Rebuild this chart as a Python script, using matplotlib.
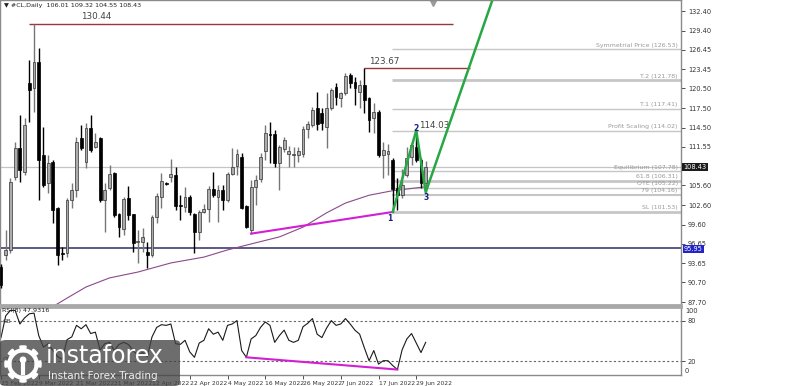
import numpy as np
import matplotlib.pyplot as plt
from matplotlib.patches import FancyBboxPatch, Circle, Wedge
from matplotlib.transforms import blended_transform_factory

# daily OHLC, 25 Feb 2022 .. 1 Jul 2022
opens = [93.1, 94.9, 95.7, 106.9, 111.4, 107.7, 121.3, 120.6, 124.6, 110.3,
         106.0, 109.2, 102.1, 95.2, 95.2, 103.4, 104.9, 112.9, 109.2, 114.4,
         111.5, 112.9, 103.4, 105.2, 107.5, 101.2, 98.9, 103.7, 101.2, 96.9,
         96.9, 95.4, 94.9, 100.8, 103.8, 105.9, 106.9, 107.2, 102.5, 102.3,
         103.8, 101.2, 98.5, 101.5, 102.0, 105.1, 103.8, 104.9, 103.4, 107.4,
         108.6, 110.0, 102.5, 98.8, 105.4, 106.6, 110.9, 113.5, 113.5, 109.1,
         111.2, 110.4, 110.3, 110.3, 110.4, 114.3, 114.9, 117.5, 116.7, 114.6,
         117.5, 120.7, 119.0, 119.8, 122.6, 121.5, 120.0, 121.0, 119.0, 115.9,
         116.9, 110.3, 110.5, 109.5, 105.2, 104.2, 107.2, 110.0, 111.5, 109.5,
         106.01]
highs = [93.5, 98.8, 106.8, 112.3, 116.4, 116.0, 124.9, 130.44, 126.7, 114.6,
         110.3, 109.5, 102.3, 96.2, 103.7, 106.0, 113.1, 114.9, 115.2, 116.4,
         113.7, 113.1, 106.0, 108.7, 107.6, 101.4, 103.9, 105.5, 101.2, 98.8,
         99.1, 96.9, 101.1, 104.4, 107.5, 106.1, 109.7, 108.4, 104.1, 105.4,
         104.2, 101.4, 101.8, 102.8, 105.5, 107.7, 105.7, 105.7, 107.7, 111.4,
         111.2, 110.6, 102.6, 106.4, 107.2, 110.6, 114.9, 115.4, 114.1, 111.8,
         113.1, 111.7, 111.5, 111.5, 114.7, 115.5, 117.7, 119.9, 117.5, 119.8,
         120.6, 121.3, 119.9, 122.9, 122.9, 122.3, 121.8, 123.67, 119.2, 118.3,
         117.2, 112.3, 112.0, 109.8, 106.8, 108.2, 111.5, 112.3, 114.03, 109.8,
         109.32]
lows = [89.8, 94.2, 95.2, 106.4, 106.1, 107.2, 115.4, 116.9, 103.4, 105.4,
        104.4, 99.8, 93.4, 94.2, 94.6, 102.1, 103.8, 111.1, 108.3, 110.7,
        111.4, 103.1, 98.5, 104.9, 100.8, 97.7, 98.0, 100.3, 95.4, 93.7,
        95.4, 92.9, 94.6, 99.8, 102.1, 105.6, 106.1, 101.8, 100.3, 101.5,
        101.0, 95.2, 97.2, 101.4, 100.0, 103.8, 100.0, 101.8, 103.1, 107.2,
        107.2, 102.0, 99.1, 98.2, 102.6, 106.1, 109.5, 109.1, 108.5, 104.9,
        110.7, 108.5, 108.5, 109.2, 110.0, 112.9, 114.6, 114.1, 114.1, 111.4,
        117.2, 118.0, 117.7, 119.5, 120.6, 118.0, 117.5, 116.7, 113.8, 113.7,
        110.0, 106.8, 107.2, 101.53, 101.8, 103.6, 106.9, 108.7, 109.2, 105.2,
        104.55]
closes = [90.3, 95.7, 106.1, 111.4, 108.0, 114.9, 120.3, 124.6, 109.5, 105.7,
          109.1, 101.8, 94.9, 95.0, 103.4, 104.9, 112.3, 111.4, 114.4, 111.1,
          112.3, 103.4, 104.9, 107.4, 101.1, 99.2, 103.5, 101.1, 96.8, 96.9,
          97.7, 94.9, 100.8, 104.0, 106.3, 105.8, 107.4, 102.4, 102.4, 103.8,
          101.5, 98.5, 101.5, 102.0, 105.1, 104.1, 104.9, 103.4, 107.4, 108.4,
          110.4, 102.1, 99.2, 105.4, 106.4, 110.0, 113.7, 113.4, 109.1, 111.5,
          112.6, 110.9, 110.3, 110.9, 114.3, 115.1, 117.2, 115.1, 115.2, 117.5,
          120.3, 119.2, 119.8, 122.4, 121.3, 120.6, 121.0, 118.7, 115.7, 116.9,
          110.3, 111.1, 110.9, 105.0, 104.2, 105.7, 109.8, 111.8, 109.5, 106.0,
          108.43]

rsi = [55, 87, 95, 95, 75, 84, 90, 91, 58, 41,
       46, 36, 27, 23, 52, 56, 73, 68, 74, 61,
       63, 37, 46, 48, 36, 45, 48, 45, 36, 29,
       33, 27, 56, 70, 74, 73, 75, 46, 45, 51,
       34, 26, 47, 51, 68, 60, 63, 51, 73, 75,
       80, 36, 26, 53, 58, 70, 78, 73, 48, 58,
       66, 51, 48, 51, 71, 76, 83, 60, 55, 69,
       80, 73, 75, 83, 75, 66, 60, 40, 21, 36,
       16, 21, 21, 14, 8, 37, 53, 61, 47, 33,
       48]

ma_idx = [11, 14, 18, 23, 29, 36, 43, 48, 54, 59, 64, 69, 73, 78, 83, 90]
ma_val = [87.0, 88.3, 90.0, 91.4, 92.3, 93.7, 94.6, 95.7, 96.8, 97.7,
          99.2, 101.4, 102.9, 104.1, 104.8, 105.4]

fib_names = ['Symmetrial Price', 'T.2', 'T.1', 'Profit Scaling', 'Equilibrium',
             '61.8', 'OTE', '79', 'SL']
fib_levels = [126.53, 121.78, 117.41, 114.02, 107.78, 106.31, 105.22, 104.16, 101.53]

wave_idx = [83, 88, 90, 104]
wave_px = [101.53, 114.03, 104.55, 133.8]

div_idx = [53, 83]
div_px = [98.2, 101.53]
rsi_div_idx = [52, 84]
rsi_div = [26, 8]

date_idx = [0, 8, 16, 24, 32, 40, 48, 56, 64, 72, 80, 88]
date_lbl = ['25 Feb 2022', '9 Mar 2022', '21 Mar 2022', '31 Mar 2022', '12 Apr 2022',
            '22 Apr 2022', '4 May 2022', '16 May 2022', '26 May 2022', '7 Jun 2022',
            '17 Jun 2022', '29 Jun 2022']

price_ticks = [132.40, 129.40, 126.45, 123.45, 120.50, 117.50, 114.50, 111.55,
               105.60, 102.60, 99.60, 96.65, 93.65, 90.70, 87.70]

last_price = 108.43
support = 95.95

W, H = 800, 386
fig = plt.figure(figsize=(8, 3.86), dpi=100)
ax = fig.add_axes([0, 1 - 305 / H, 681 / W, 305 / H])
ax2 = fig.add_axes([0, 1 - 375 / H, 681 / W, 68 / H])

xl = (-0.21, 144.1)
for a in (ax, ax2):
    a.set_xlim(*xl)
    a.set_facecolor('white')
    for s in a.spines.values():
        s.set_color('#8a8a8a')
        s.set_linewidth(1)
    a.yaxis.tick_right()
    a.tick_params(axis='y', labelsize=4.8, colors='#333333', length=3, width=0.6, pad=2)
ax.spines['bottom'].set_linewidth(2)
ax2.spines['top'].set_linewidth(2)
ax.spines['bottom'].set_color('#a8a8a8')
ax2.spines['top'].set_color('#a8a8a8')

ax.set_ylim(87.24, 134.09)
ax.set_yticks(price_ticks)
ax.set_yticklabels(['%.2f' % v for v in price_ticks])
ax.set_xticks([])

# reference lines
ax.axhline(last_price, color='#c4c4c4', lw=0.9, zorder=1)
ax.axhline(support, color='#2e2e66', lw=1.1, zorder=1)
ax.hlines(130.44, 5.9, 95.8, color='#9c3636', lw=1, zorder=1)
ax.hlines(123.67, 76.9, 99.4, color='#9c3636', lw=1, zorder=1)
ax.text(20.2, 130.8, '130.44', fontsize=6.3, color='#444444', ha='center', va='bottom')
ax.text(81.3, 124.0, '123.67', fontsize=6.3, color='#444444', ha='center', va='bottom')
ax.text(91.8, 114.1, '114.03', fontsize=6.3, color='#444444', ha='center', va='bottom')

fib_lw = [1, 2, 1, 1, 1, 2, 1, 1.5, 2]
for name, lev, lw in zip(fib_names, fib_levels, fib_lw):
    ax.hlines(lev, 82.8, xl[1], color='#c6c6c6', lw=lw, zorder=1)
    ax.text(143.4, lev + 0.25, '%s (%.2f)' % (name, lev), fontsize=4.5,
            color='#9a9a9a', ha='right', va='bottom')

# moving average
ax.plot(ma_idx, ma_val, color='#8a4a8a', lw=0.8, zorder=2)

# candles
x = np.arange(len(opens))
o, hi, lo, c = map(np.array, (opens, highs, lows, closes))
up = c >= o
ax.vlines(x[up], lo[up], hi[up], color='#767676', lw=1, zorder=3)
ax.vlines(x[~up], lo[~up], hi[~up], color='black', lw=1, zorder=3)
blo = np.minimum(o, c)
bh = np.maximum(np.abs(c - o), 0.15)
ax.bar(x[up], bh[up], 0.6, bottom=blo[up], color='#acacac', edgecolor='#333333',
       lw=0.5, zorder=4)
ax.bar(x[~up], bh[~up], 0.6, bottom=blo[~up], color='black', edgecolor='black',
       lw=0.5, zorder=4)

# divergence + wave
ax.plot(div_idx, div_px, color='#d21fd2', lw=1.5, zorder=5)
ax.plot(wave_idx, wave_px, color='#27a844', lw=1.8, zorder=6)
for t, (wx, wy) in zip(['1', '2', '3'], [(82.4, 100.5), (87.9, 114.4), (90.1, 103.8)]):
    ax.text(wx, wy, t, fontsize=5.5, color='#1b2080', fontweight='bold',
            ha='center', va='center', zorder=7)

# price boxes on the axis
tr = blended_transform_factory(ax.transAxes, ax.transData)
ax.text(1.004, last_price, '%.2f' % last_price, transform=tr, fontsize=4.8, color='white',
        va='center', ha='left', bbox=dict(boxstyle='square,pad=0.2', fc='#1c1c1c', ec='none'))
ax.text(1.004, support - 0.15, '%.2f' % support, transform=tr, fontsize=4.8, color='white',
        va='center', ha='left', bbox=dict(boxstyle='square,pad=0.15', fc='#2323c8', ec='none'))
ax.plot([91.5], [133.7], marker='v', ms=4, color='#9a9a9a', clip_on=False)

# RSI
ax2.set_ylim(0, 100)
ax2.axhline(80, color='#666666', lw=0.8, ls=(0, (2, 2)))
ax2.axhline(20, color='#666666', lw=0.8, ls=(0, (2, 2)))
ax2.plot(x, rsi, color='#1a1a1a', lw=0.8)
ax2.plot(rsi_div_idx, rsi_div, color='#d21fd2', lw=1.5)
ax2.set_yticks([80, 20])
ax2.set_yticklabels(['80', '20'])
tr2 = blended_transform_factory(ax2.transAxes, ax2.transData)
ax2.text(1.006, 99, '100', transform=tr2, fontsize=4.8, color='#333333', va='top')
ax2.text(1.006, 1, '0', transform=tr2, fontsize=4.8, color='#333333', va='bottom')
ax2.text(0.003, 0.99, 'RSI(8) 47.9316', transform=ax2.transAxes, fontsize=4.6,
         color='#222222', va='top')
ax2.text(0.004, 0.82, 'OB', transform=ax2.transAxes, fontsize=4.2, color='#444444', va='top')
ax2.text(0.004, 0.27, 'OS', transform=ax2.transAxes, fontsize=4.2, color='#444444', va='top')
ax2.set_xticks(date_idx)
ax2.set_xticklabels(date_lbl, fontsize=4.3, color='#333333', ha='left')
ax2.tick_params(axis='x', length=3, width=0.6, pad=1.5, colors='#333333')

fig.text(4 / W, 1 - 5 / H, '\u25bc #CL,Daily  106.01 109.32 104.55 108.43', fontsize=4.6,
         color='#222222', va='center')

# instaforex watermark
fig.patches.append(FancyBboxPatch((0, 0), 180 / W, 46 / H, boxstyle='round,pad=0,rounding_size=0.008',
                                  transform=fig.transFigure, fc='#444444', ec='none', alpha=0.78,
                                  zorder=10))
fig.text(46 / W, 1 - 356 / H, 'instaforex', fontsize=17, color='white', va='center',
         ha='left', zorder=11)
fig.text(48 / W, 1 - 376 / H, 'Instant Forex Trading', fontsize=7.5, color='#eeeeee',
         va='center', ha='left', zorder=11)
lg = fig.add_axes([4 / W, 1 - 384 / H, 38 / W, 40 / H], zorder=12)
lg.set_xlim(-1, 1)
lg.set_ylim(-1.05, 1.05)
lg.set_aspect('equal')
lg.axis('off')
for ang in range(0, 360, 45):
    lg.add_patch(Wedge((0, 0), 0.95, ang - 10, ang + 10, width=0.3, color='white'))
lg.add_patch(Circle((0, 0), 0.72, fill=False, ec='white', lw=3))
lg.add_patch(Circle((0, 0.22), 0.14, color='white'))
lg.plot([0, 0], [-0.45, 0.02], color='white', lw=3)

fig.savefig('out.png', dpi=100)
